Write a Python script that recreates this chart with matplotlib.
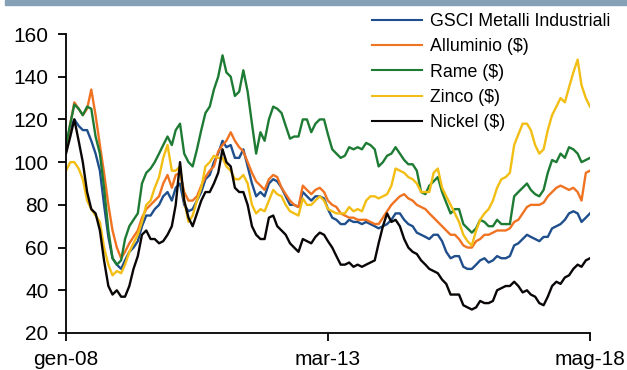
import matplotlib
matplotlib.use("Agg")
import matplotlib.pyplot as plt
import pandas as pd
from matplotlib.patches import Rectangle

plt.rcParams['font.family'] = ['Liberation Sans', 'DejaVu Sans']

dates = pd.date_range("2008-01-01", "2018-05-01", freq="MS")

gsci = [106, 116, 120, 117, 115, 115, 110, 104, 96, 80, 65, 55, 52, 50, 54, 58, 60, 63, 70, 75,
        75, 78, 80, 84, 86, 82, 88, 90, 80, 77, 78, 82, 86, 92, 94, 100, 104, 110, 107, 108,
        102, 102, 106, 98, 90, 84, 86, 84, 90, 92, 91, 88, 84, 80, 80, 79, 86, 84, 82, 84,
        84, 83, 78, 74, 73, 71, 71, 73, 72, 72, 71, 72, 71, 70, 69, 70, 71, 73, 76, 76,
        73, 71, 70, 67, 66, 65, 64, 66, 66, 63, 58, 55, 56, 56, 51, 50, 50, 52, 54, 55,
        53, 54, 56, 55, 55, 56, 61, 62, 64, 66, 65, 64, 63, 65, 65, 69, 70, 71, 73, 76,
        77, 76, 72, 74, 76]
alluminio = [105, 118, 128, 125, 122, 125, 134, 122, 108, 95, 80, 68, 60, 55, 58, 62, 65, 68, 74, 78,
             80, 82, 84, 90, 94, 88, 94, 95, 86, 82, 82, 84, 89, 93, 96, 98, 105, 108, 110, 114,
             110, 107, 105, 100, 95, 91, 89, 87, 92, 94, 93, 88, 85, 82, 80, 79, 89, 87, 85, 87,
             88, 86, 82, 80, 79, 76, 75, 74, 74, 73, 73, 73, 72, 71, 71, 74, 77, 80, 82, 84,
             85, 83, 82, 80, 79, 78, 76, 74, 72, 70, 68, 66, 66, 64, 61, 60, 60, 63, 64, 66,
             66, 67, 68, 68, 68, 69, 72, 73, 76, 79, 80, 80, 80, 81, 84, 86, 88, 89, 88, 87,
             88, 86, 82, 95, 96]
rame = [108, 118, 127, 125, 122, 126, 125, 112, 104, 88, 68, 55, 52, 54, 64, 70, 73, 76, 90, 95,
        97, 100, 104, 108, 112, 108, 115, 118, 104, 100, 98, 106, 115, 123, 126, 134, 140, 150, 142, 140,
        131, 133, 143, 133, 118, 104, 114, 110, 120, 126, 125, 123, 117, 111, 112, 112, 120, 120, 114, 118,
        120, 120, 113, 106, 104, 102, 103, 107, 106, 107, 106, 109, 108, 106, 98, 100, 103, 104, 107, 104,
        101, 99, 99, 96, 86, 85, 89, 91, 93, 86, 81, 76, 78, 78, 71, 69, 67, 69, 73, 72,
        70, 70, 73, 71, 71, 71, 84, 86, 88, 90, 87, 85, 84, 87, 95, 101, 100, 104, 102, 107,
        106, 104, 100, 101, 102]
zinco = [96, 100, 100, 97, 92, 82, 78, 75, 72, 60, 52, 47, 49, 48, 52, 58, 62, 66, 72, 80,
         82, 88, 93, 102, 108, 96, 96, 98, 82, 72, 75, 82, 88, 98, 100, 103, 102, 102, 98, 96,
         92, 92, 94, 90, 80, 76, 78, 77, 82, 87, 85, 84, 80, 77, 76, 75, 83, 80, 80, 82,
         84, 82, 78, 77, 76, 76, 76, 79, 77, 78, 77, 82, 84, 84, 83, 84, 85, 89, 97, 96,
         95, 93, 92, 90, 86, 86, 86, 95, 97, 88, 84, 80, 76, 72, 66, 63, 61, 68, 73, 76,
         78, 82, 88, 92, 93, 95, 108, 113, 118, 118, 115, 108, 104, 106, 115, 122, 126, 130, 128, 135,
         142, 148, 136, 130, 126]
nickel = [104, 112, 120, 110, 100, 86, 78, 76, 68, 54, 42, 38, 40, 37, 37, 42, 50, 56, 66, 68,
          64, 64, 62, 63, 66, 70, 80, 100, 82, 74, 70, 76, 82, 86, 86, 90, 95, 106, 100, 98,
          88, 86, 86, 80, 70, 66, 64, 64, 74, 75, 70, 68, 66, 62, 60, 58, 64, 63, 62, 65,
          67, 66, 63, 60, 56, 52, 52, 53, 51, 52, 51, 52, 53, 54, 62, 70, 76, 72, 73, 70,
          64, 60, 58, 57, 54, 52, 50, 49, 48, 45, 43, 38, 38, 38, 33, 32, 31, 32, 35, 34,
          34, 35, 40, 41, 42, 42, 44, 42, 39, 40, 38, 37, 34, 33, 37, 42, 44, 43, 46, 47,
          50, 52, 51, 54, 55]

series = [
    ("GSCI Metalli Industriali", gsci, "#1F4E8C"),
    ("Alluminio ($)", alluminio, "#F07322"),
    ("Rame ($)", rame, "#1E7B34"),
    ("Zinco ($)", zinco, "#F2BE14"),
    ("Nickel ($)", nickel, "#0A0606"),
]

yticks = [20, 40, 60, 80, 100, 120, 140, 160]
xtick_dates = ["2008-01-01", "2013-03-01", "2018-05-01"]
xtick_labels = ["gen-08", "mar-13", "mag-18"]

fig = plt.figure(figsize=(6.27, 3.70), dpi=100)
ax = fig.add_axes([66 / 627, 1 - 333 / 370, (590 - 66) / 627, (333 - 34) / 370])

lines = []
for name, vals, col in series:
    ln, = ax.plot(dates, vals, color=col, lw=1.7, label=name)
    lines.append(ln)

ax.set_ylim(20, 160)
ax.set_xlim(pd.Timestamp("2008-01-01"), pd.Timestamp("2018-05-01"))
ax.set_yticks(yticks)
ax.set_xticks([pd.Timestamp(d) for d in xtick_dates])
ax.set_xticklabels(xtick_labels)
for s in ["top", "right"]:
    ax.spines[s].set_visible(False)
for s in ["left", "bottom"]:
    ax.spines[s].set_linewidth(1.3)
    ax.spines[s].set_color("black")
ax.tick_params(axis="both", direction="out", length=5.5, width=1.3, labelsize=15, colors="black")
ax.tick_params(axis="x", pad=7)
ax.tick_params(axis="y", pad=7)

line_handles = [plt.Line2D([], [], color=l.get_color(), lw=1.5) for l in lines]
fig.legend(handles=line_handles, labels=[s[0] for s in series], loc="upper left",
           bbox_to_anchor=(372 / 627, 1 - 13 / 370),
           frameon=False, fontsize=12.8, handlelength=2.8, handletextpad=0.45,
           labelspacing=0.47, borderaxespad=0, borderpad=0)

fig.patches.append(Rectangle((5 / 627, 1 - 5 / 370), 1, 5 / 370, transform=fig.transFigure,
                             color="#86A0B6", zorder=0))

fig.savefig("out.png", dpi=100)
